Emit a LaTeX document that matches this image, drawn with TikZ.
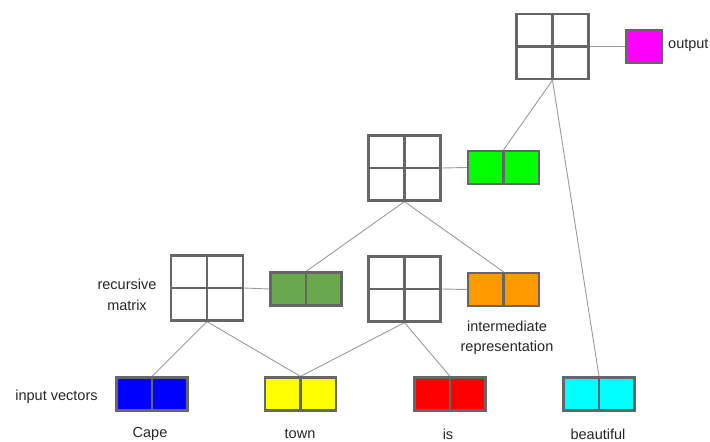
\documentclass[tikz,border=0pt]{standalone}
\usepackage{fontspec}
\setmainfont{Liberation Sans}
\definecolor{edgegray}{HTML}{666666}
\definecolor{linkgray}{HTML}{9A9A9A}
\definecolor{leafgreen}{HTML}{6AA84F}
\definecolor{amber}{HTML}{FF9900}
\definecolor{puremagenta}{HTML}{FF00FF}
\definecolor{purecyan}{HTML}{00FFFF}
\definecolor{puregreen}{HTML}{00FF00}
\definecolor{pureblue}{HTML}{0000FF}
\definecolor{pureyellow}{HTML}{FFFF00}
\definecolor{purered}{HTML}{FF0000}
\begin{document}
\begin{tikzpicture}[x=1pt,y=-1pt,
  matbox/.style={draw=edgegray,line width=2.2pt,fill=white,minimum width=72pt,minimum height=65pt,inner sep=0pt},
  vecbox/.style={draw=edgegray,line width=2.2pt,minimum width=71pt,minimum height=33pt,inner sep=0pt},
  outbox/.style={draw=edgegray,line width=2.2pt,minimum width=36pt,minimum height=33pt,inner sep=0pt},
  grid/.style={draw=edgegray,line width=2.2pt},
  link/.style={draw=linkgray,line width=0.9pt},
  label/.style={font=\fontsize{14.5}{20.5}\selectfont,text=black!85,inner sep=0pt,align=center}]
\useasboundingbox (0,0) rectangle (710,442);

% recursive matrices
\node[matbox] (mtop) at (552.5,46.5) {};
\node[matbox] (mmid) at (404.5,168) {};
\node[matbox] (mleft) at (207,288) {};
\node[matbox] (mright) at (404.5,289) {};

% vectors
\node[outbox,fill=puremagenta] (out) at (644,46.5) {};
\node[vecbox,fill=puregreen] (vmid) at (503.5,167.5) {};
\node[vecbox,fill=leafgreen] (vleft) at (306,289) {};
\node[vecbox,fill=amber] (vright) at (503.5,289.5) {};
\node[vecbox,fill=pureblue] (cape) at (152,394) {};
\node[vecbox,fill=pureyellow] (town) at (300.5,394) {};
\node[vecbox,fill=purered] (is) at (450,394) {};
\node[vecbox,fill=purecyan] (beaut) at (599,394) {};

% connectors
\draw[link] (mtop.east) -- (out.west);
\draw[link] (mmid.east) -- (vmid.west);
\draw[link] (mleft.east) -- (vleft.west);
\draw[link] (mright.east) -- (vright.west);
\draw[link] (mtop.south) -- (vmid.north);
\draw[link] (mtop.south) -- (beaut.north);
\draw[link] (mmid.south) -- (vleft.north);
\draw[link] (mmid.south) -- (vright.north);
\draw[link] (mleft.south) -- (cape.north);
\draw[link] (mleft.south) -- (town.north);
\draw[link] (mright.south) -- (town.north);
\draw[link] (mright.south) -- (is.north);

% cell dividers
\foreach \m in {mtop,mmid,mleft,mright}
  \draw[grid] (\m.north) -- (\m.south) (\m.west) -- (\m.east);
\foreach \v in {vmid,vleft,vright,cape,town,is,beaut}
  \draw[grid] (\v.north) -- (\v.south);

% labels
\node[label,anchor=west] (tout) at (668,45) {output};
\node[label] (trec) at (127,295) {recursive\\matrix};
\node[label] (tint) at (507,337.5) {intermediate\\representation};
\node[label] (tin) at (56.5,397) {input vectors};
\node[label] (tcape) at (150,434) {Cape};
\node[label] (ttown) at (300,434) {town};
\node[label] (tis) at (448,434) {is};
\node[label] (tbeaut) at (598,434) {beautiful};
\end{tikzpicture}
\end{document}
